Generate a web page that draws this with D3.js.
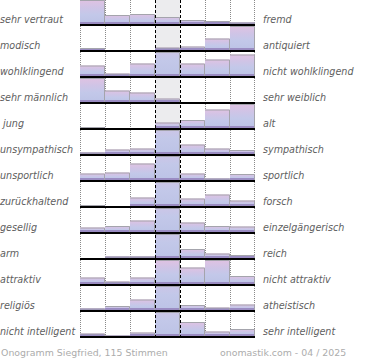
<!DOCTYPE html>
<html><head><meta charset="utf-8">
<script src="https://cdn.jsdelivr.net/npm/d3@7"></script>
<style>body{margin:0;background:#fff}svg{display:block}</style>
</head><body>
<svg id="chart" width="370" height="360"></svg>
<script>
const leftLabels = ["sehr vertraut","modisch","wohlklingend","sehr männlich"," jung","unsympathisch","unsportlich","zurückhaltend","gesellig","arm","attraktiv","religiös","nicht intelligent"];
const rightLabels = ["fremd","antiquiert","nicht wohlklingend","sehr weiblich","alt","sympathisch","sportlich","forsch","einzelgängerisch","reich","nicht attraktiv","atheistisch","sehr intelligent"];
const steps = [1,2,3,4,5,6,7];
// relative vote share per step (row max shown = 24; larger values are cut at the row top)
const ratings = [
  [24, 9, 10, 7, 4, 3, 1.5],
  [2, 0, 0, 2.5, 3.5, 11.5, 24],
  [10.5, 2.5, 12.5, 40, 12.5, 16.5, 21.5],
  [24, 11.5, 9.5, 3.5, 0, 0, 0],
  [1, 0, 0, 5.5, 8, 18.5, 24],
  [1.5, 4.5, 5.5, 40, 9.5, 5.5, 4],
  [6.5, 7.5, 16.5, 40, 6.5, 1.5, 6],
  [1, 0, 8.5, 40, 7.5, 11.5, 5.5],
  [4.5, 6, 11.5, 40, 9.5, 6, 5.5],
  [0, 1.5, 1.5, 40, 9, 4.5, 3],
  [6.5, 2.5, 6.5, 24, 16.5, 24, 8],
  [1.5, 4, 10.5, 40, 5, 2.5, 5.5],
  [2.5, 0.5, 3.5, 40, 14, 4.5, 7]
];
const footerLeft = "Onogramm Siegfried, 115 Stimmen";
const footerRight = "onomastik.com - 04 / 2025";

const svg = d3.select("#chart");
const rowH = 26, firstBase = 24, barMax = 24;
const x = d3.scaleBand().domain(steps).range([80, 255]).padding(0);
const h = d3.scaleLinear().domain([0, 24]).range([0, barMax]);
const rowBase = d3.scaleLinear().domain([0, 1]).range([firstBase, firstBase + rowH]);
const nRows = leftLabels.length;
const bottom = rowBase(nRows - 1) + 2;

const defs = svg.append("defs");
const g = defs.append("linearGradient").attr("id", "barGrad").attr("x1", 0).attr("y1", 0).attr("x2", 0).attr("y2", 1);
[[0, "#e0c2e2"], [0.3, "#d0c4e6"], [0.6, "#c3c8e9"], [1, "#bcc3e6"]].forEach(([o, c]) =>
  g.append("stop").attr("offset", o).attr("stop-color", c));

// middle column background
svg.append("rect").attr("x", x(4)).attr("y", 0).attr("width", x.bandwidth()).attr("height", bottom)
  .attr("fill", "#ececee");

// dotted grid
[1, 2, 3, 6, 7].forEach(s => {
  svg.append("line").attr("x1", x(s) + 0.5).attr("x2", x(s) + 0.5).attr("y1", 0).attr("y2", bottom)
    .attr("stroke", "#8a8a8a").attr("stroke-width", 1).attr("stroke-dasharray", "1,1");
});
svg.append("line").attr("x1", x(7) + x.bandwidth() - 0.5).attr("x2", x(7) + x.bandwidth() - 0.5)
  .attr("y1", 0).attr("y2", bottom).attr("stroke", "#8a8a8a").attr("stroke-dasharray", "1,1");

ratings.forEach((vals, i) => {
  const base = rowBase(i);
  const top = base - barMax;
  const clipId = "clip" + i;
  defs.append("clipPath").attr("id", clipId).append("rect")
    .attr("x", 78).attr("y", Math.max(0, top)).attr("width", 180).attr("height", base - Math.max(0, top));
  const row = svg.append("g").attr("clip-path", `url(#${clipId})`);
  const data = steps.map((s, k) => ({s, v: vals[k]})).filter(d => d.v > 0);
  row.selectAll("rect.bar").data(data).join("rect").attr("class", "bar")
    .attr("x", d => x(d.s)).attr("width", x.bandwidth())
    .attr("y", d => base - h(d.v)).attr("height", d => h(d.v))
    .attr("fill", "url(#barGrad)");
  row.selectAll("rect.foot").data(data).join("rect").attr("class", "foot")
    .attr("x", d => x(d.s)).attr("width", x.bandwidth())
    .attr("y", d => base - Math.min(2, h(d.v))).attr("height", d => Math.min(2, h(d.v)))
    .attr("fill", "#9a8cc2");
  row.selectAll("path.edge").data(data).join("path").attr("class", "edge")
    .attr("d", d => {
      const y0 = Math.max(top, base - h(d.v)) + 0.5;
      const x1 = x(d.s) + x.bandwidth() - 0.5;
      return `M${x(d.s)},${y0}H${x1}V${base}`;
    })
    .attr("fill", "none").attr("stroke", "#a4a4ac").attr("stroke-width", 1);
  svg.append("rect").attr("x", x(1)).attr("y", base).attr("width", x(7) + x.bandwidth() - x(1)).attr("height", 2)
    .attr("fill", "#000");
  svg.append("text").attr("x", 0).attr("y", base - 1).text(leftLabels[i])
    .attr("font-family", "DejaVu Sans").attr("font-style", "italic").attr("font-size", 9.6).attr("fill", "#606060")
    .attr("xml:space", "preserve").style("white-space", "pre");
  svg.append("text").attr("x", 263).attr("y", base - 1).text(rightLabels[i])
    .attr("font-family", "DejaVu Sans").attr("font-style", "italic").attr("font-size", 9.6).attr("fill", "#606060");
});

// dashed middle lines
[x(4), x(5)].forEach(px => {
  svg.append("line").attr("x1", px + 0.5).attr("x2", px + 0.5).attr("y1", 0).attr("y2", bottom)
    .attr("stroke", "#000").attr("stroke-width", 1).attr("stroke-dasharray", "3,2");
});

svg.append("text").attr("x", 1).attr("y", 356).text(footerLeft)
  .attr("font-family", "DejaVu Sans").attr("font-size", 9.4).attr("fill", "#acacac");
svg.append("text").attr("x", 220).attr("y", 356).text(footerRight)
  .attr("font-family", "DejaVu Sans").attr("font-size", 9.4).attr("fill", "#acacac");
</script>
</body></html>
